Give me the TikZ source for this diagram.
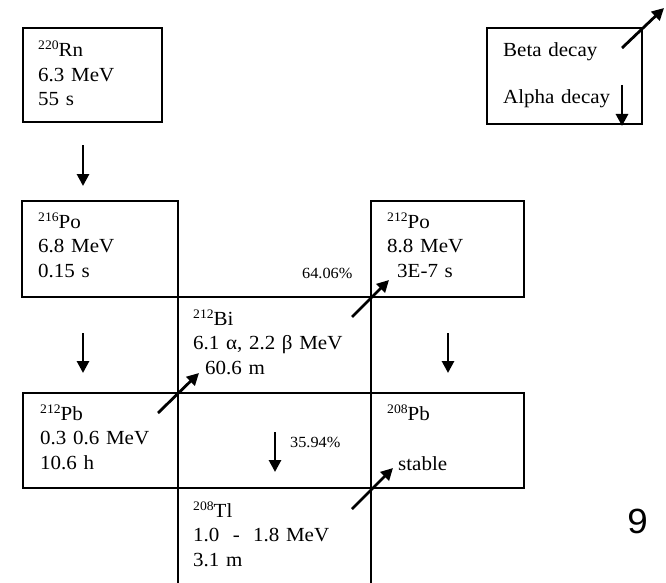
\documentclass[tikz,border=0pt]{standalone}
\usepackage{fontspec}
\setmainfont{Liberation Serif}[FakeStretch=1.05]
\newfontfamily\ninefont{Liberation Sans}[FakeStretch=1.05]
\usetikzlibrary{arrows.meta}
\newcommand{\nuc}[2]{\raisebox{7pt}{\fontsize{13}{13}\selectfont #1}#2}
\begin{document}
\begin{tikzpicture}[x=1pt,y=-1pt,
  cell/.style={draw, line width=1.3pt, inner sep=0pt, outer sep=0pt, anchor=north west},
  txt/.style={anchor=base west, inner sep=0pt, text width=175pt, align=left, font=\fontsize{20}{24.5}\selectfont},
  pct/.style={anchor=base west, inner sep=0pt, font=\fontsize{15.5}{18}\selectfont},
  arr/.style={line width=2.8pt, -{Triangle[length=12pt,width=12pt]}}]
\useasboundingbox (0,0) rectangle (666,583);
% boxes
\node[cell, minimum width=139pt, minimum height=94pt] (rn) at (23,28) {};
\node[cell, minimum width=155pt, minimum height=96pt] (leg) at (487,28) {};
\node[cell, minimum width=156pt, minimum height=96pt] (po216) at (22,201) {};
\node[cell, minimum width=153pt, minimum height=96pt] (po212) at (371,201) {};
\node[cell, minimum width=193pt, minimum height=96pt] (bi) at (178,297) {};
\node[cell, minimum width=155pt, minimum height=95pt] (pb212) at (23,393) {};
\node[cell, minimum width=153pt, minimum height=95pt] (pb208) at (371,393) {};
\begin{scope}
\clip (0,0) rectangle (666,583);
\node[cell, minimum width=193pt, minimum height=120pt] (tl) at (178,488) {};
\end{scope}
% texts
\node[txt] (rnT) at (38,57) {\nuc{220}{Rn}\\6.3 MeV\\55 s};
\node[txt] (legT) at (503,57) {Beta decay\\[22pt]Alpha decay};
\node[txt] (po216T) at (38,228) {\nuc{216}{Po}\\6.8 MeV\\0.15 s};
\node[txt] (po212T) at (387,228) {\nuc{212}{Po}\\8.8 MeV\\\hspace*{10pt}3E-7 s};
\node[txt] (biT) at (193,325) {\nuc{212}{Bi}\\6.1 α, 2.2 β MeV\\\hspace*{12pt}60.6 m};
\node[txt] (pb212T) at (40,420) {\nuc{212}{Pb}\\0.3 0.6 MeV\\10.6 h};
\node[txt] (pb208T) at (387,420) {\nuc{208}{Pb}\\[26pt]\hspace*{11pt}stable};
\node[txt] (tlT) at (193,517) {\nuc{208}{Tl}\\1.0\ \ -\ \ 1.8 MeV\\3.1 m};
\node[pct] (p1) at (302,278) {64.06\%};
\node[pct] (p2) at (290,447) {35.94\%};
\node[anchor=base, inner sep=0pt, font=\ninefont\fontsize{35}{40}\selectfont] (nine) at (637.5,533) {9};
% arrow end points
\coordinate (a1s) at (83,145); \coordinate (a1e) at (83,186);
\coordinate (a2s) at (83,333); \coordinate (a2e) at (83,373);
\coordinate (a3s) at (448,333); \coordinate (a3e) at (448,373);
\coordinate (a4s) at (275,432); \coordinate (a4e) at (275,472);
\coordinate (b1s) at (158,413); \coordinate (b1e) at (199,373);
\coordinate (b2s) at (352,317); \coordinate (b2e) at (389,280);
\coordinate (b3s) at (352,509); \coordinate (b3e) at (393,468);
\coordinate (lbs) at (622,48); \coordinate (lbe) at (664,8);
\coordinate (las) at (622,85); \coordinate (lae) at (622,126);
% arrows
\draw[arr] (a1s) -- (a1e);
\draw[arr] (a2s) -- (a2e);
\draw[arr] (a3s) -- (a3e);
\draw[arr] (a4s) -- (a4e);
\draw[arr] (b1s) -- (b1e);
\draw[arr] (b2s) -- (b2e);
\draw[arr] (b3s) -- (b3e);
\draw[arr] (lbs) -- (lbe);
\draw[arr] (las) -- (lae);
\end{tikzpicture}
\end{document}
